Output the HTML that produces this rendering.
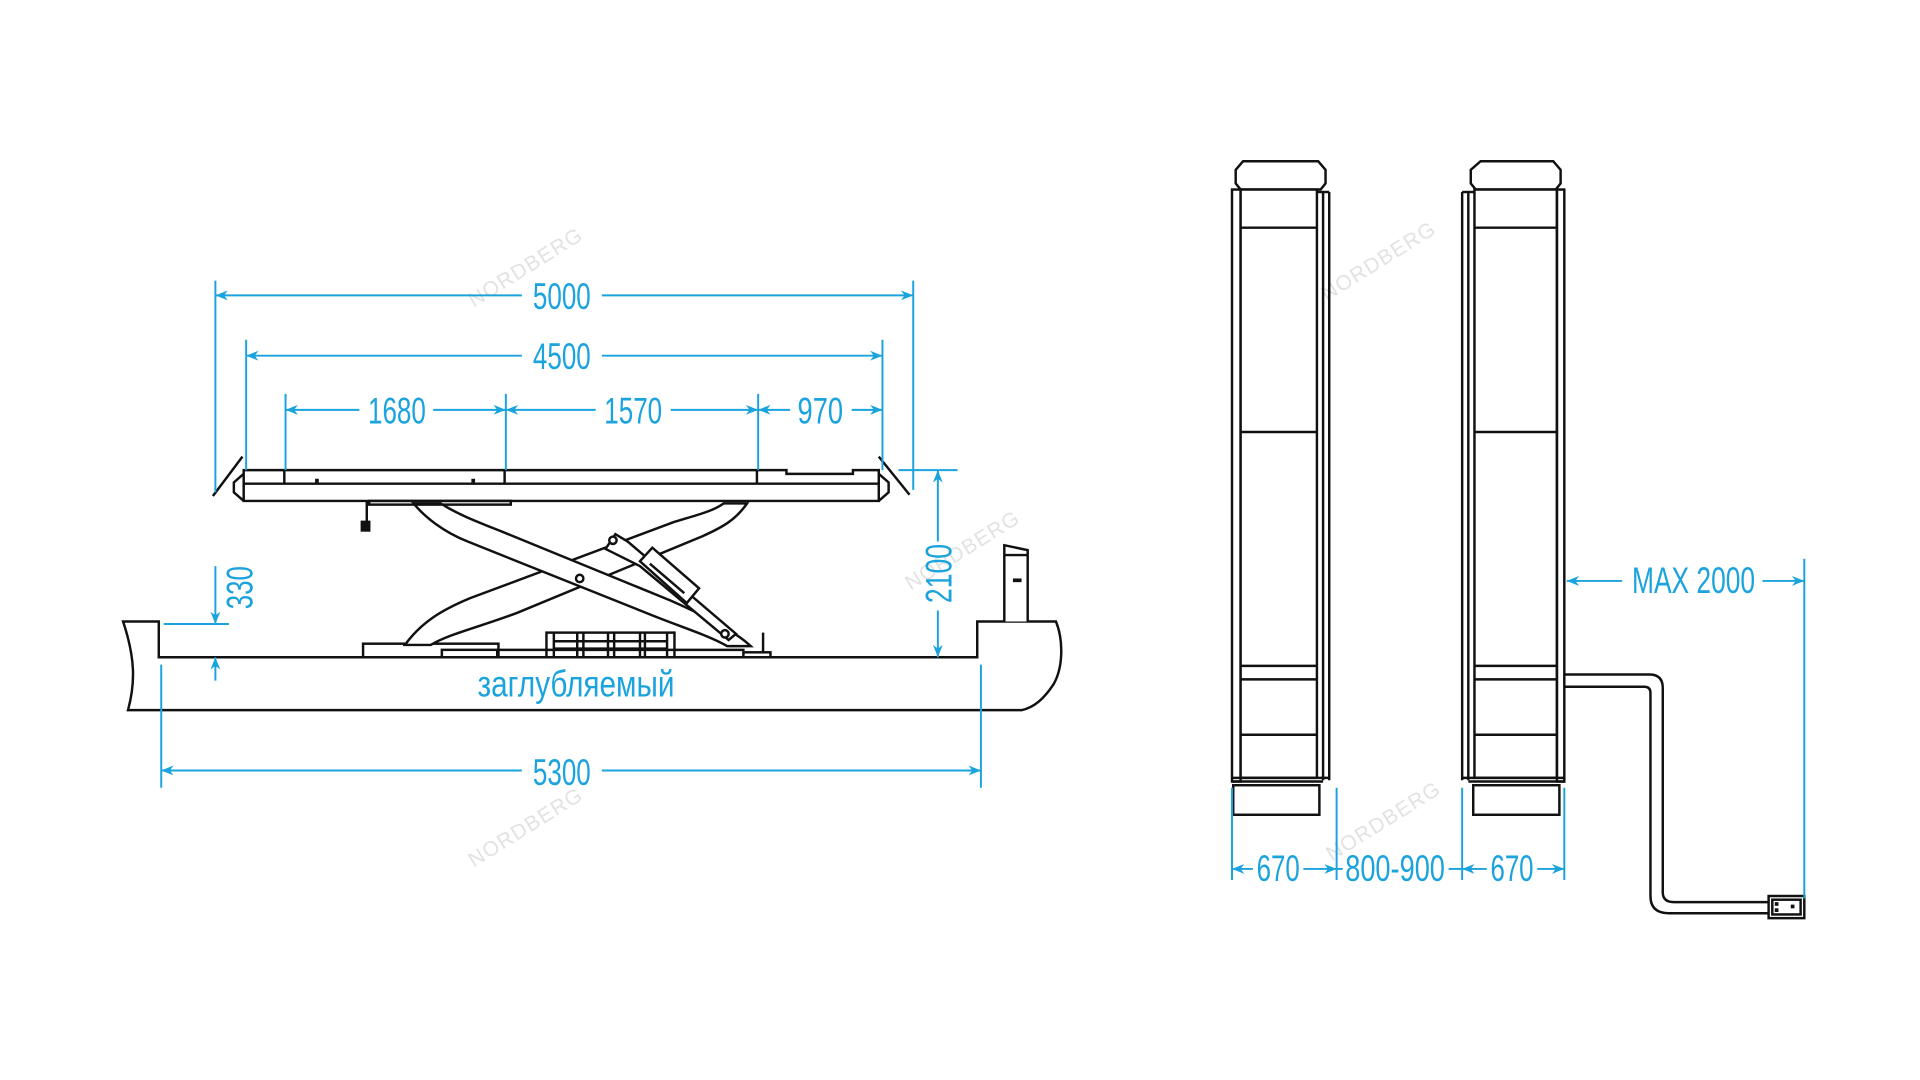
<!DOCTYPE html>
<html><head><meta charset="utf-8"><style>
html,body{margin:0;padding:0;background:#fff;width:1920px;height:1080px;overflow:hidden}
svg{display:block}
.k{fill:none;stroke:#111;stroke-width:2}
.kw{fill:#fff;stroke:#111;stroke-width:2}
.b{fill:none;stroke:#1ba3dd;stroke-width:1.6}
.t{fill:#1ba3dd;font-family:"Liberation Sans Narrow","Liberation Sans","DejaVu Sans Condensed",sans-serif;font-size:30px}
.w{fill:#e2e2e2;font-family:"Liberation Sans",sans-serif;font-size:17px;letter-spacing:1px}
</style></head><body>
<svg width="1920" height="1080" viewBox="0 0 1560 877.5" preserveAspectRatio="none">
<defs>
<marker id="a" viewBox="0 0 10 10" refX="10" refY="5" markerWidth="10" markerHeight="10" orient="auto-start-reverse" markerUnits="userSpaceOnUse"><path d="M0,1 L10,5 L0,9 L3,5Z" fill="#1ba3dd"/></marker>
</defs>

<text class="w" transform="translate(385,250) rotate(-32)">NORDBERG</text>
<text class="w" transform="translate(385,705) rotate(-32)">NORDBERG</text>
<text class="w" transform="translate(740,480) rotate(-32)">NORDBERG</text>
<text class="w" transform="translate(1078,245) rotate(-32)">NORDBERG</text>
<text class="w" transform="translate(1082,700) rotate(-32)">NORDBERG</text>

<path class="k" d="M100,505 L129,505 L129,534 L794,534 L794,505 L858,505 C864,520 864,542 856,556 C848,568 840,575 830,577 L104,577 C110,555 110,535 100,505Z"/>
<path class="kw" d="M816,505 L816,443 L835,447 L835,505"/>
<line class="k" x1="816" y1="451" x2="835" y2="451"/>
<rect x="823" y="470" width="7" height="3" fill="#111"/>

<rect class="kw" x="295" y="523" width="110" height="11"/>
<rect class="k" x="359" y="528" width="45" height="6"/>
<rect class="kw" x="444" y="514" width="104" height="20"/>
<line class="k" x1="450" y1="514" x2="450" y2="534"/><line class="k" x1="469" y1="514" x2="469" y2="534"/>
<line class="k" x1="474" y1="514" x2="474" y2="534"/><line class="k" x1="494" y1="514" x2="494" y2="534"/>
<line class="k" x1="499" y1="514" x2="499" y2="534"/><line class="k" x1="520" y1="514" x2="520" y2="534"/>
<line class="k" x1="524" y1="514" x2="524" y2="534"/><line class="k" x1="542" y1="514" x2="542" y2="534"/>
<line class="k" x1="450" y1="521" x2="542" y2="521"/><line class="k" x1="450" y1="527" x2="542" y2="527"/>
<line class="k" x1="405" y1="528" x2="605" y2="528"/>
<rect class="kw" x="604" y="530" width="22" height="4"/>
<line class="k" x1="620" y1="530" x2="620" y2="514"/>

<path class="kw" d="M588,409 L607,409 C598,422 588,428 570,436 L420,498 C388,510 365,515 350,524 L329,524 C342,506 358,496 382,486 L548,424 C568,418 580,415 588,409Z"/>
<path class="kw" d="M336,409 L358,409 C372,418 388,424 408,432 L545,488 C572,500 596,512 610,525 L591,525 C575,516 555,510 530,500 L380,440 C360,432 345,420 336,409Z"/>
<circle class="kw" cx="471" cy="470" r="3"/>
<path class="kw" d="M492,446 L500,434 L510,440 L598,515 L592,520 L520,460Z"/>
<path class="kw" d="M520,456 L530,445 L568,478 L558,490Z"/>
<line class="k" x1="528" y1="458" x2="556" y2="482"/>
<circle class="kw" cx="498" cy="439" r="3"/>
<circle class="kw" cx="589" cy="515" r="3"/>
<line class="k" x1="298" y1="407" x2="298" y2="425"/>
<rect x="293" y="423" width="8" height="9" fill="#111"/>

<path class="kw" d="M198,382 L639,382 L639,385 L693,385 L693,382 L714,382 L714,407 L198,407Z"/>
<line class="k" x1="198" y1="393" x2="714" y2="393"/>
<rect class="k" x="300" y="407" width="115" height="3"/>
<line class="k" x1="231" y1="382" x2="231" y2="393"/>
<line class="k" x1="410" y1="382" x2="410" y2="393"/>
<line class="k" x1="615" y1="382" x2="615" y2="393"/>
<rect x="256" y="389" width="3" height="3" fill="#111"/><rect x="383" y="389" width="3" height="3" fill="#111"/>
<line class="k" x1="173" y1="403" x2="197" y2="371"/>
<path class="k" d="M198,385 L190,392 L190,400 L198,407"/>
<line class="k" x1="714" y1="371" x2="739" y2="402"/>
<path class="k" d="M714,385 L722,392 L722,400 L714,407"/>

<line class="b" x1="175" y1="228" x2="175" y2="400"/>
<line class="b" x1="742" y1="228" x2="742" y2="398"/>
<line class="b" x1="175" y1="240" x2="424" y2="240" marker-start="url(#a)"/>
<line class="b" x1="489" y1="240" x2="742" y2="240" marker-end="url(#a)"/>
<text class="t" x="433" y="251" textLength="47" lengthAdjust="spacingAndGlyphs">5000</text>

<line class="b" x1="200" y1="276" x2="200" y2="382"/>
<line class="b" x1="717" y1="276" x2="717" y2="382"/>
<line class="b" x1="200" y1="289" x2="424" y2="289" marker-start="url(#a)"/>
<line class="b" x1="489" y1="289" x2="717" y2="289" marker-end="url(#a)"/>
<text class="t" x="433" y="300" textLength="47" lengthAdjust="spacingAndGlyphs">4500</text>

<line class="b" x1="232" y1="320" x2="232" y2="382"/>
<line class="b" x1="411" y1="320" x2="411" y2="382"/>
<line class="b" x1="616" y1="320" x2="616" y2="382"/>
<line class="b" x1="232" y1="333" x2="292" y2="333" marker-start="url(#a)"/>
<line class="b" x1="352" y1="333" x2="411" y2="333" marker-end="url(#a)"/>
<text class="t" x="299" y="344" textLength="47" lengthAdjust="spacingAndGlyphs">1680</text>
<line class="b" x1="411" y1="333" x2="484" y2="333" marker-start="url(#a)"/>
<line class="b" x1="545" y1="333" x2="616" y2="333" marker-end="url(#a)"/>
<text class="t" x="491" y="344" textLength="47" lengthAdjust="spacingAndGlyphs">1570</text>
<line class="b" x1="616" y1="333" x2="642" y2="333" marker-start="url(#a)"/>
<line class="b" x1="692" y1="333" x2="717" y2="333" marker-end="url(#a)"/>
<text class="t" x="648" y="344" textLength="37" lengthAdjust="spacingAndGlyphs">970</text>

<line class="b" x1="730" y1="382" x2="778" y2="382"/>
<line class="b" x1="762" y1="382" x2="762" y2="440" marker-start="url(#a)"/>
<line class="b" x1="762" y1="496" x2="762" y2="534" marker-end="url(#a)"/>
<text class="t" transform="translate(773,490) rotate(-90)" textLength="48" lengthAdjust="spacingAndGlyphs">2100</text>

<line class="b" x1="133" y1="507" x2="186" y2="507"/>
<line class="b" x1="175" y1="460" x2="175" y2="507" marker-end="url(#a)"/>
<line class="b" x1="175" y1="534" x2="175" y2="553" marker-start="url(#a)"/>
<text class="t" transform="translate(205,495) rotate(-90)" textLength="35" lengthAdjust="spacingAndGlyphs">330</text>

<text class="t" x="388" y="566" textLength="160" lengthAdjust="spacingAndGlyphs">заглубляемый</text>

<line class="b" x1="131" y1="540" x2="131" y2="640"/>
<line class="b" x1="797" y1="540" x2="797" y2="640"/>
<line class="b" x1="131" y1="626" x2="424" y2="626" marker-start="url(#a)"/>
<line class="b" x1="489" y1="626" x2="797" y2="626" marker-end="url(#a)"/>
<text class="t" x="433" y="638" textLength="47" lengthAdjust="spacingAndGlyphs">5300</text>

<g>
<path class="kw" d="M1010,131 L1071,131 L1077,138 L1077,149 L1073,154 L1008,154 L1004,149 L1004,138Z"/>
<rect class="k" x="1001" y="154" width="7" height="481"/>
<rect class="kw" x="1008" y="154" width="62" height="478"/>
<line class="k" x1="1075" y1="156" x2="1075" y2="634"/>
<line class="k" x1="1080" y1="156" x2="1080" y2="634"/>
<line class="k" x1="1070" y1="156" x2="1080" y2="156"/>
<line class="k" x1="1008" y1="185" x2="1070" y2="185"/>
<line class="k" x1="1008" y1="351" x2="1070" y2="351"/>
<line class="k" x1="1008" y1="541" x2="1070" y2="541"/>
<line class="k" x1="1008" y1="552" x2="1070" y2="552"/>
<line class="k" x1="1008" y1="597" x2="1070" y2="597"/>
<line class="k" x1="1001" y1="632" x2="1080" y2="632"/>
<line class="k" x1="1001" y1="635" x2="1075" y2="635"/>
<rect class="kw" x="1002" y="638" width="70" height="24"/>
</g>
<g>
<path class="kw" d="M1203,131 L1262,131 L1268,138 L1268,149 L1264,154 L1199,154 L1195,149 L1195,138Z"/>
<line class="k" x1="1188" y1="156" x2="1188" y2="634"/>
<line class="k" x1="1193" y1="156" x2="1193" y2="634"/>
<line class="k" x1="1188" y1="156" x2="1198" y2="156"/>
<rect class="kw" x="1198" y="154" width="67" height="478"/>
<rect class="k" x="1265" y="154" width="6" height="481"/>
<line class="k" x1="1198" y1="185" x2="1265" y2="185"/>
<line class="k" x1="1198" y1="351" x2="1265" y2="351"/>
<line class="k" x1="1198" y1="541" x2="1265" y2="541"/>
<line class="k" x1="1198" y1="552" x2="1265" y2="552"/>
<line class="k" x1="1198" y1="597" x2="1265" y2="597"/>
<line class="k" x1="1188" y1="632" x2="1271" y2="632"/>
<line class="k" x1="1193" y1="635" x2="1271" y2="635"/>
<rect class="kw" x="1197" y="638" width="70" height="24"/>
</g>
<path class="k" d="M1271,548 L1340,548 Q1351,548 1351,559 L1351,725 Q1351,733 1360,733 L1437,733"/>
<path class="k" d="M1271,558 L1336,558 Q1341,558 1341,563 L1341,728 Q1341,742 1356,742 L1437,742"/>
<rect class="kw" x="1437" y="728" width="29" height="18"/>
<rect class="k" x="1440" y="731" width="23" height="12"/>
<rect x="1442" y="733" width="3" height="3" fill="#111"/><rect x="1442" y="738" width="3" height="3" fill="#111"/><rect x="1455" y="735" width="3" height="3" fill="#111"/>

<line class="b" x1="1001" y1="640" x2="1001" y2="715"/>
<line class="b" x1="1086" y1="640" x2="1086" y2="715"/>
<line class="b" x1="1188" y1="640" x2="1188" y2="715"/>
<line class="b" x1="1271" y1="640" x2="1271" y2="715"/>
<line class="b" x1="1001" y1="706" x2="1018" y2="706" marker-start="url(#a)"/>
<line class="b" x1="1059" y1="706" x2="1086" y2="706" marker-end="url(#a)"/>
<text class="t" x="1021" y="716" textLength="35" lengthAdjust="spacingAndGlyphs">670</text>
<line class="b" x1="1086" y1="706" x2="1091" y2="706"/>
<text class="t" x="1093" y="716" textLength="81" lengthAdjust="spacingAndGlyphs">800-900</text>
<line class="b" x1="1177" y1="706" x2="1188" y2="706"/>
<line class="b" x1="1188" y1="706" x2="1208" y2="706" marker-start="url(#a)"/>
<line class="b" x1="1249" y1="706" x2="1271" y2="706" marker-end="url(#a)"/>
<text class="t" x="1211" y="716" textLength="35" lengthAdjust="spacingAndGlyphs">670</text>

<line class="b" x1="1466" y1="454" x2="1466" y2="730"/>
<line class="b" x1="1273" y1="472" x2="1318" y2="472" marker-start="url(#a)"/>
<line class="b" x1="1432" y1="472" x2="1466" y2="472" marker-end="url(#a)"/>
<text class="t" x="1326" y="482" textLength="100" lengthAdjust="spacingAndGlyphs">MAX 2000</text>
</svg>
</body></html>
